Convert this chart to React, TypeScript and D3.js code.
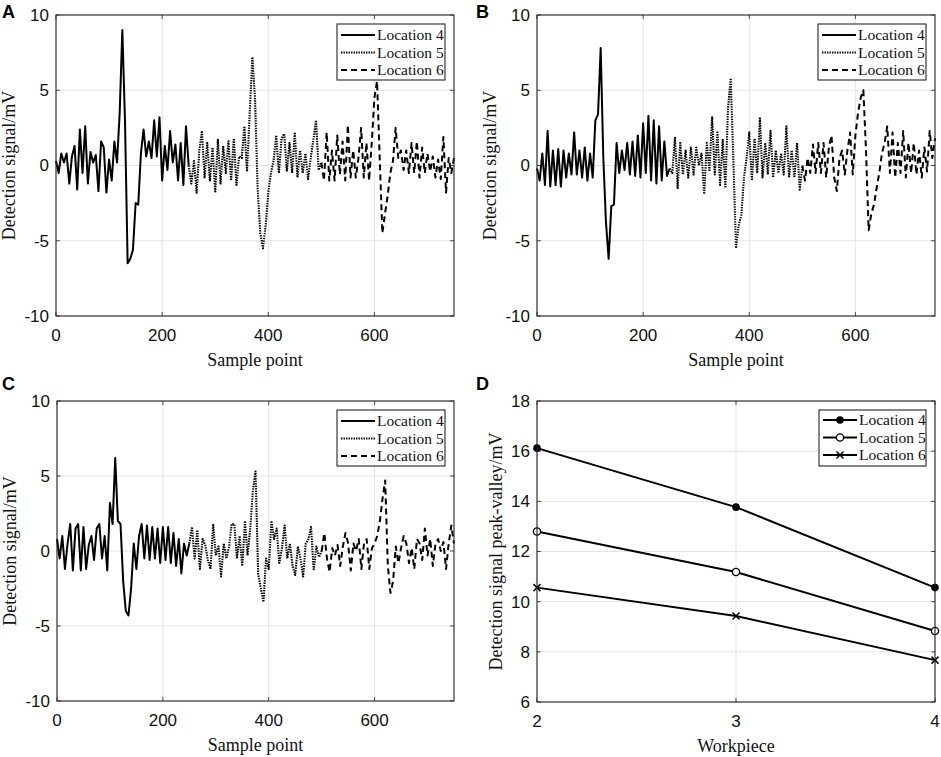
import * as d3 from "d3";

// sampling step of the digitised signals (sample points)
const STEP = 5;
const locations = ["Location 4", "Location 5", "Location 6"];
const locationStarts = [0, 250, 500];
const signalXTicks = [0, 200, 400, 600];
const signalYTicks = [-10, -5, 0, 5, 10];
const workpieces = [2, 3, 4];
const peakYTicks = [6, 8, 10, 12, 14, 16, 18];

// panel A
const a4 = [0.3, -0.5, 0.8, 0.2, 0.8, -1.2, 0.6, 1.3, -1.6, 2.4, -0.5, 2.6, -1.2, 0.9, 0.2, 0.7, -1.7, 1.6, 1.2, -1.8, 0.4, -1.0, 1.6, 0.2,
  3.5, 9.0, 3.0, -6.5, -6.2, -5.6, -2.5, -2.6, 0.8, 2.4, 0.6, 1.6, 0.5, 3.0, 0.6, 3.2, -1.0, 1.3, -0.3, 2.3, 0.2, 1.4, -1.0, 1.5, -1.3, 2.6, 0.0];
const a5 = [0.0, -1.2, 0.3, -1.8, 1.0, 2.3, -0.8, 1.5, -1.0, 1.2, -1.8, 1.7, -1.2, 1.3, -0.5, 1.6, -1.0, 1.8, -1.3, 0.6,
  0.5, 2.6, -0.4, 3.5, 7.2, 4.5, -1.5, -4.5, -5.5, -4.0, -1.8, -0.5, 0.3, 2.0, -0.5, 1.8, 2.1, -0.4, 1.5, -0.5,
  2.2, -0.8, 1.0, -0.5, 0.8, -0.9, 0.5, 1.7, 3.0, -0.3, 0.2];
const a6 = [0.2, -1.0, 2.2, -1.0, 1.0, -1.0, 2.0, -0.6, 1.6, -1.0, 2.7, -0.8, 1.0, -0.8, 0.5, 2.5, -0.8, 1.5, -1.0, 1.5,
  4.5, 5.6, 0.5, -4.5, -3.2, -2.0, -0.5, 0.3, 2.5, 0.5, 1.0, -0.3, 1.0, -0.5, 1.5, -0.5, 1.6, -0.8, 1.2, -0.5,
  0.8, -0.4, 0.6, -0.8, 0.4, -0.9, 1.9, -1.8, 0.5, -0.5, 0.5];

// panel B
const b4 = [-0.2, -1.0, 0.8, -1.3, 2.3, -1.4, 1.0, -1.3, 1.1, -1.4, 1.0, -0.8, 0.8, -0.6, 2.2, -0.6, 1.0, -0.8, 1.2, -1.0,
  0.8, -0.8, 3.0, 3.4, 7.8, 0.5, -3.8, -6.2, -2.7, -2.6, 1.5, -0.5, 1.0, -0.3, 1.5, -0.6, 1.6, -0.7, 2.0, -0.8,
  2.8, -0.5, 3.3, -1.0, 3.0, -1.2, 2.6, -1.0, 1.6, -0.7, -0.2];
const b5 = [-0.2, -0.5, 1.9, -1.5, 1.5, -0.6, 1.0, -0.8, 1.2, -0.6, 1.2, 0.0, 0.8, -1.9, 1.5, -0.4, 3.2, -0.6, 2.2, -1.3,
  1.7, -1.5, 3.8, 5.8, 0.5, -5.5, -4.0, -3.3, -0.8, 0.5, 2.2, -1.0, 1.8, -0.5, 3.2, -0.8, 1.5, -0.6, 2.3, -0.8,
  1.0, -0.5, 0.8, -0.6, 2.6, -0.8, 1.0, -0.8, 1.5, -1.6, 0.0];
const b6 = [0.0, -1.0, 0.5, -0.5, 1.4, -0.5, 1.5, -0.5, 1.5, -0.8, 1.2, 2.0, -0.8, -1.7, 0.5, 1.0, -0.6, 1.0, 2.2, -0.6,
  2.0, 3.5, 4.5, 5.0, 1.0, -4.3, -3.2, -2.6, -1.5, -0.5, 0.8, 1.5, 2.6, -0.5, 2.2, -0.8, 1.5, -0.5, 2.3, -0.8,
  1.5, -0.5, 1.5, -0.6, 1.0, -0.8, 1.2, -0.4, 2.3, 0.5, 1.8];

// panel C
const c4 = [0.8, -0.5, 1.0, -1.2, 0.5, 1.8, -1.3, 1.5, 1.8, -1.3, 1.6, -1.2, 0.4, 1.0, -0.6, 1.5, 1.8, -0.5, 1.0, -1.3,
  3.2, 1.8, 6.2, 2.0, 1.8, -2.0, -4.0, -4.3, -2.5, 0.5, -1.2, 1.0, 1.8, -0.5, 1.7, -0.6, 1.6, -0.5, 1.5, -0.8,
  1.6, -0.6, 1.6, -0.8, 1.2, -1.0, 0.8, -1.5, 0.5, -0.3, 0.5];
const c5 = [0.5, 1.6, -0.5, 1.4, -1.2, 0.8, 0.4, -0.6, -1.2, 1.8, -0.3, 0.3, -1.7, 0.5, -0.5, 0.3, 1.8, 1.8, -0.5, 1.0,
  -1.0, 2.0, -0.3, 1.5, 4.0, 5.3, -1.5, -2.5, -3.4, -0.5, -1.2, 2.0, 0.8, 1.5, -0.8, 0.2, 1.7, -0.5, 0.5, -1.0,
  -1.6, 0.3, -0.5, -1.7, 0.5, 0.8, 1.6, -1.3, 0.3, -0.4, 0.0];
const c6 = [0.0, 1.2, -0.5, -1.4, 0.2, -0.3, 0.4, -1.0, 0.3, 1.2, 0.5, -1.3, 0.5, 0.0, 0.8, -1.2, 0.5, 0.8, -1.2, 0.2,
  0.5, 1.0, 2.0, 3.5, 4.7, -1.0, -2.8, -2.0, 0.3, -0.8, 0.2, 1.0, 0.5, -0.8, 0.2, -1.2, 0.8, 0.5, -0.6, 1.5,
  -0.3, 0.8, -1.0, 0.5, 0.8, 0.0, 0.6, -1.2, 0.5, 1.7, 0.5];

// panel D: peak-valley per workpiece
const peak4 = [16.12, 13.77, 10.56];
const peak5 = [12.8, 11.18, 8.83];
const peak6 = [10.56, 9.43, 7.67];

const SERIF = "'Liberation Serif', 'Times New Roman', serif";
const SANS = "'Liberation Sans', Arial, sans-serif";
const GRID = "#e3e3e3";
const AXIS = "#262626";
const dashes = [null, "1.4 1.1", "6 4"];
const widths = [2, 2.1, 2];

function Ticks({ x, y, frame, xt, yt }) {
  const b = frame.y + frame.h, r = frame.x + frame.w;
  return (
    <g stroke={AXIS} strokeWidth={0.8}>
      {xt.map(t => (
        <g key={"x" + t}>
          <line x1={x(t)} x2={x(t)} y1={b} y2={b - 4} />
          <line x1={x(t)} x2={x(t)} y1={frame.y} y2={frame.y + 4} />
        </g>
      ))}
      {yt.map(t => (
        <g key={"y" + t}>
          <line x1={frame.x} x2={frame.x + 4} y1={y(t)} y2={y(t)} />
          <line x1={r} x2={r - 4} y1={y(t)} y2={y(t)} />
        </g>
      ))}
    </g>
  );
}

function Frame({ x, y, frame, xt, yt, xlabel, ylabel, ylabelX }) {
  return (
    <g>
      <Ticks x={x} y={y} frame={frame} xt={xt} yt={yt} />
      <rect x={frame.x} y={frame.y} width={frame.w} height={frame.h} fill="none" stroke={AXIS} strokeWidth={1.1} />
      <g fontFamily={SANS} fontSize={17} fill="#111">
        {xt.map(t => (
          <text key={t} x={x(t)} y={frame.y + frame.h + 25} textAnchor="middle">{t}</text>
        ))}
        {yt.map(t => (
          <text key={t} x={frame.x - 7} y={y(t)} dy="0.35em" textAnchor="end">{t}</text>
        ))}
      </g>
      <text x={frame.x + frame.w / 2} y={frame.y + frame.h + 50} textAnchor="middle" fontFamily={SERIF} fontSize={18} fill="#111">{xlabel}</text>
      <text transform={`translate(${ylabelX},${frame.y + frame.h / 2}) rotate(-90)`} textAnchor="middle" fontFamily={SERIF} fontSize={18} fill="#111">{ylabel}</text>
    </g>
  );
}

function Grid({ x, y, frame, xt, yt }) {
  return (
    <g stroke={GRID} strokeWidth={1}>
      {xt.map(t => <line key={"x" + t} x1={x(t)} x2={x(t)} y1={frame.y} y2={frame.y + frame.h} />)}
      {yt.map(t => <line key={"y" + t} x1={frame.x} x2={frame.x + frame.w} y1={y(t)} y2={y(t)} />)}
    </g>
  );
}

function SignalPanel({ frame, letter, letterPos, series }) {
  const x = d3.scaleLinear().domain([0, 750]).range([frame.x, frame.x + frame.w]);
  const y = d3.scaleLinear().domain([-10, 10]).range([frame.y + frame.h, frame.y]);
  const lx = frame.x + frame.w - 117;
  const ly = frame.y + 9;
  return (
    <g>
      <Grid x={x} y={y} frame={frame} xt={signalXTicks} yt={signalYTicks} />
      {series.map((vals, k) => {
        const line = d3.line<number>()
          .x((d, i) => x(locationStarts[k] + i * STEP))
          .y(d => y(d));
        return (
          <path key={k} d={line(vals) || ""} fill="none" stroke="#000" strokeWidth={widths[k]}
            strokeDasharray={dashes[k] || undefined} strokeLinejoin="round" />
        );
      })}
      <Frame x={x} y={y} frame={frame} xt={signalXTicks} yt={signalYTicks}
        xlabel="Sample point" ylabel="Detection signal/mV" ylabelX={frame.x - 41} />
      <rect x={lx} y={ly} width={108} height={56} fill="#fff" stroke={AXIS} strokeWidth={1.1} />
      {locations.map((name, k) => (
        <g key={name}>
          <line x1={lx + 4} x2={lx + 38} y1={ly + 11 + k * 17.5} y2={ly + 11 + k * 17.5}
            stroke="#000" strokeWidth={widths[k]} strokeDasharray={dashes[k] || undefined} />
          <text x={lx + 40} y={ly + 11 + k * 17.5} dy="0.35em" fontFamily={SERIF} fontSize={15.5} fill="#111">{name}</text>
        </g>
      ))}
      <text x={letterPos[0]} y={letterPos[1]} fontFamily={SANS} fontWeight="bold" fontSize={18}>{letter}</text>
    </g>
  );
}

function Marker({ kind, cx, cy }) {
  if (kind === 0) return <circle cx={cx} cy={cy} r={3.8} fill="#000" />;
  if (kind === 1) return <circle cx={cx} cy={cy} r={3.6} fill="#fff" stroke="#000" strokeWidth={1.3} />;
  return (
    <g stroke="#000" strokeWidth={1.5}>
      <line x1={cx - 3.5} x2={cx + 3.5} y1={cy - 3.5} y2={cy + 3.5} />
      <line x1={cx - 3.5} x2={cx + 3.5} y1={cy + 3.5} y2={cy - 3.5} />
    </g>
  );
}

function PeakPanel({ frame }) {
  const x = d3.scaleLinear().domain([2, 4]).range([frame.x, frame.x + frame.w]);
  const y = d3.scaleLinear().domain([6, 18]).range([frame.y + frame.h, frame.y]);
  const series = [peak4, peak5, peak6];
  const line = d3.line<number>().x((d, i) => x(workpieces[i])).y(d => y(d));
  const lx = frame.x + frame.w - 116;
  const ly = frame.y + 9;
  return (
    <g>
      <Grid x={x} y={y} frame={frame} xt={workpieces} yt={peakYTicks} />
      {series.map((vals, k) => (
        <g key={k}>
          <path d={line(vals) || ""} fill="none" stroke="#000" strokeWidth={2} />
          {vals.map((v, i) => <Marker key={i} kind={k} cx={x(workpieces[i])} cy={y(v)} />)}
        </g>
      ))}
      <Frame x={x} y={y} frame={frame} xt={workpieces} yt={peakYTicks}
        xlabel="Workpiece" ylabel="Detection signal peak-valley/mV" ylabelX={frame.x - 35} />
      <rect x={lx} y={ly} width={107} height={56} fill="#fff" stroke={AXIS} strokeWidth={1.1} />
      {locations.map((name, k) => (
        <g key={name}>
          <line x1={lx + 4} x2={lx + 38} y1={ly + 10 + k * 17.5} y2={ly + 10 + k * 17.5} stroke="#000" strokeWidth={2} />
          <Marker kind={k} cx={lx + 21} cy={ly + 10 + k * 17.5} />
          <text x={lx + 40} y={ly + 10 + k * 17.5} dy="0.35em" fontFamily={SERIF} fontSize={15.5} fill="#111">{name}</text>
        </g>
      ))}
      <text x={476} y={390} fontFamily={SANS} fontWeight="bold" fontSize={18}>D</text>
    </g>
  );
}

export default function App() {
  return (
    <svg width={941} height={757} style={{ position: "absolute", left: 0, top: 0, background: "#fff" }}>
      <rect width={941} height={757} fill="#fff" />
      <SignalPanel frame={{ x: 56, y: 15, w: 398, h: 301 }} letter="A" letterPos={[2, 18]} series={[a4, a5, a6]} />
      <SignalPanel frame={{ x: 537, y: 15, w: 398, h: 301 }} letter="B" letterPos={[476, 18]} series={[b4, b5, b6]} />
      <SignalPanel frame={{ x: 57, y: 401, w: 397, h: 300 }} letter="C" letterPos={[2, 390]} series={[c4, c5, c6]} />
      <PeakPanel frame={{ x: 537, y: 401, w: 398, h: 301 }} />
    </svg>
  );
}
